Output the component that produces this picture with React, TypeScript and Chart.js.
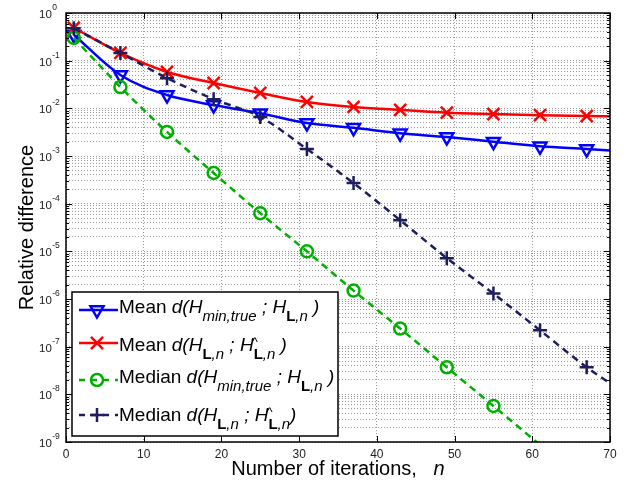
import React, { useEffect, useRef } from 'react';
import { Chart, registerables } from 'chart.js';

Chart.register(...registerables);

// ---------- data ----------
const iterations = [1, 7, 13, 19, 25, 31, 37, 43, 49, 55, 61, 67, 70];
const markerIterations = [1, 7, 13, 19, 25, 31, 37, 43, 49, 55, 61, 67];
const meanMinTrue = [0.35, 0.05, 0.019, 0.0117, 0.0079, 0.0049, 0.0039, 0.003, 0.0025, 0.002, 0.0016, 0.0014, 0.0013];
const meanLHat = [0.49, 0.145, 0.058, 0.034, 0.021, 0.0136, 0.0107, 0.0093, 0.0081, 0.0076, 0.0072, 0.0069, 0.0068];
const medianIterations = [1, 7, 13, 19, 25, 31, 37, 43, 49, 55, 61];
const medianMinTrue = [0.3, 0.028, 0.0032, 4.4e-4, 6.3e-5, 1.0e-5, 1.5e-6, 2.4e-7, 3.7e-8, 5.7e-9, 8.7e-10];
const medianLHat = [0.48, 0.145, 0.043, 0.0156, 0.0066, 0.0014, 2.7e-4, 4.5e-5, 7.2e-6, 1.3e-6, 2.2e-7, 3.7e-8, 1.7e-8];

const xTickValues = [0, 10, 20, 30, 40, 50, 60, 70];
const yExponents = [0, -1, -2, -3, -4, -5, -6, -7, -8, -9];

const legendLabels = [
  'Mean d(H_{min,true} ; H_{L,n} )',
  'Mean d(H_{L,n} ; H^_{L,n} )',
  'Median d(H_{min,true} ; H_{L,n} )',
  'Median d(H_{L,n} ; H^_{L,n})',
];
const xAxisTitle = 'Number of iterations,';
const xAxisVariable = 'n';
const yAxisTitle = 'Relative difference';

// ---------- styles ----------
const FONT = '"Liberation Sans", Arial, Helvetica, sans-serif';
const Y_MIN = 1e-9;
const Y_MAX = 1;

type SeriesStyle = {
  color: string;
  marker: 'triangleDown' | 'crossRot' | 'circle' | 'cross';
  dash: number[];
  radius: number;
};

const seriesStyles: SeriesStyle[] = [
  { color: '#0000ff', marker: 'triangleDown', dash: [], radius: 7.5 },
  { color: '#ff0000', marker: 'crossRot', dash: [], radius: 8.5 },
  { color: '#00b000', marker: 'circle', dash: [7, 5], radius: 6 },
  { color: '#1e1e5e', marker: 'cross', dash: [7, 5], radius: 7 },
];

function pointStyleOf(m: SeriesStyle['marker']): any {
  if (m === 'triangleDown') return 'triangle';
  return m;
}

function drawMarker(ctx: CanvasRenderingContext2D, s: SeriesStyle, x: number, y: number) {
  const r = s.radius;
  ctx.save();
  ctx.setLineDash([]);
  ctx.strokeStyle = s.color;
  ctx.lineWidth = 2.5;
  ctx.beginPath();
  if (s.marker === 'triangleDown') {
    ctx.moveTo(x, y + r);
    ctx.lineTo(x - r * 0.866, y - r / 2);
    ctx.lineTo(x + r * 0.866, y - r / 2);
    ctx.closePath();
  } else if (s.marker === 'crossRot') {
    const d = r * 0.707;
    ctx.moveTo(x - d, y - d);
    ctx.lineTo(x + d, y + d);
    ctx.moveTo(x + d, y - d);
    ctx.lineTo(x - d, y + d);
  } else if (s.marker === 'circle') {
    ctx.arc(x, y, r, 0, Math.PI * 2);
  } else {
    ctx.moveTo(x - r, y);
    ctx.lineTo(x + r, y);
    ctx.moveTo(x, y - r);
    ctx.lineTo(x, y + r);
  }
  ctx.stroke();
  ctx.restore();
}

function drawRich(ctx: CanvasRenderingContext2D, label: string, x: number, baseline: number) {
  const sp = label.indexOf(' ');
  let cx = x;
  const roman = label.slice(0, sp + 1);
  ctx.font = `19px ${FONT}`;
  ctx.fillText(roman, cx, baseline);
  cx += ctx.measureText(roman).width;
  const math = label.slice(sp + 1);
  let i = 0;
  while (i < math.length) {
    const ch = math[i];
    if (ch === '_' && math[i + 1] === '{') {
      const end = math.indexOf('}', i);
      const sub = math.slice(i + 2, end);
      for (const c of sub) {
        ctx.font = c === 'L' ? `bold 15px ${FONT}` : `italic 15px ${FONT}`;
        ctx.fillText(c, cx, baseline + 8);
        cx += ctx.measureText(c).width;
      }
      i = end + 1;
    } else if (ch === '^') {
      ctx.font = `13px ${FONT}`;
      ctx.fillText('^', cx - 2, baseline - 5);
      i++;
    } else {
      ctx.font = `italic 19px ${FONT}`;
      ctx.fillText(ch, cx, baseline);
      cx += ctx.measureText(ch).width;
      i++;
    }
  }
}

const decorPlugin = {
  id: 'decor',
  afterDraw(chart: any) {
    const ctx: CanvasRenderingContext2D = chart.ctx;
    const { left, right, top, bottom } = chart.chartArea;
    const xs = chart.scales.x;
    const ys = chart.scales.y;
    ctx.save();
    ctx.setLineDash([]);

    // inward tick marks
    ctx.strokeStyle = '#000';
    ctx.lineWidth = 1;
    ctx.beginPath();
    ys.ticks.forEach((t: any) => {
      const y = Math.round(ys.getPixelForValue(t.value)) + 0.5;
      const lg = Math.log10(t.value);
      const major = Math.abs(lg - Math.round(lg)) < 1e-6;
      const len = major ? 6 : 3;
      ctx.moveTo(left, y);
      ctx.lineTo(left + len, y);
      ctx.moveTo(right, y);
      ctx.lineTo(right - len, y);
    });
    xs.ticks.forEach((t: any) => {
      const x = Math.round(xs.getPixelForValue(t.value)) + 0.5;
      ctx.moveTo(x, bottom);
      ctx.lineTo(x, bottom - 6);
      ctx.moveTo(x, top);
      ctx.lineTo(x, top + 6);
    });
    ctx.stroke();

    // frame
    ctx.lineWidth = 1.5;
    ctx.strokeRect(left, top, right - left, bottom - top);

    // y tick labels (10^e)
    ctx.fillStyle = '#222';
    ctx.textAlign = 'left';
    ctx.textBaseline = 'alphabetic';
    yExponents.forEach((e) => {
      const y = ys.getPixelForValue(Math.pow(10, e));
      ctx.font = `11.5px ${FONT}`;
      ctx.fillText('10', 39, y + 5);
      const w = ctx.measureText('10').width;
      ctx.font = `8.5px ${FONT}`;
      ctx.fillText(String(e), 39 + w + 0.5, y - 3);
    });

    // axis titles
    ctx.fillStyle = '#000';
    ctx.font = `20px ${FONT}`;
    const titleW = ctx.measureText(xAxisTitle + '   ').width;
    ctx.font = `italic 20px ${FONT}`;
    const varW = ctx.measureText(xAxisVariable).width;
    const cxm = (left + right) / 2;
    let tx = cxm - (titleW + varW) / 2;
    ctx.font = `20px ${FONT}`;
    ctx.fillText(xAxisTitle, tx, 475);
    ctx.font = `italic 20px ${FONT}`;
    ctx.fillText(xAxisVariable, tx + titleW, 475);

    ctx.save();
    ctx.translate(33, (top + bottom) / 2);
    ctx.rotate(-Math.PI / 2);
    ctx.textAlign = 'center';
    ctx.font = `20px ${FONT}`;
    ctx.fillText(yAxisTitle, 0, 0);
    ctx.restore();

    // legend
    const lx = 72, ly = 292, lw = 266, lh = 144;
    ctx.fillStyle = '#fff';
    ctx.fillRect(lx, ly, lw, lh);
    ctx.strokeStyle = '#000';
    ctx.lineWidth = 1.5;
    ctx.strokeRect(lx, ly, lw, lh);
    const sampleY = [310, 343, 380, 415];
    const textBase = [313, 351, 383, 421];
    legendLabels.forEach((lab, k) => {
      const s = seriesStyles[k];
      const y = sampleY[k];
      ctx.save();
      ctx.strokeStyle = s.color;
      ctx.lineWidth = 2.5;
      ctx.setLineDash(s.dash.length ? [6, 6] : []);
      ctx.beginPath();
      ctx.moveTo(79, y);
      ctx.lineTo(118, y);
      ctx.stroke();
      ctx.restore();
      drawMarker(ctx, s, 97, y);
      ctx.fillStyle = '#000';
      drawRich(ctx, lab, 119, textBase[k]);
    });

    ctx.restore();
  },
};

function makeDataset(label: string, xs: number[], ys: number[], s: SeriesStyle, order: number) {
  return {
    label,
    data: xs.map((x, i) => ({ x, y: ys[i] })),
    borderColor: s.color,
    backgroundColor: s.color,
    borderWidth: 2.5,
    borderDash: s.dash,
    cubicInterpolationMode: 'monotone' as const,
    pointStyle: pointStyleOf(s.marker),
    rotation: s.marker === 'triangleDown' ? 180 : 0,
    pointRadius: (c: any) =>
      c.raw && markerIterations.includes(c.raw.x) && c.raw.y >= Y_MIN ? s.radius : 0,
    pointBorderWidth: 2.5,
    pointBorderColor: s.color,
    pointBackgroundColor: 'rgba(0,0,0,0)',
    order,
    clip: 0,
  };
}

export default function App() {
  const ref = useRef<HTMLCanvasElement>(null);
  useEffect(() => {
    if (!ref.current) return;
    const chart = new Chart(ref.current, {
      type: 'line',
      data: {
        datasets: [
          makeDataset(legendLabels[0], iterations, meanMinTrue, seriesStyles[0], 4),
          makeDataset(legendLabels[1], iterations, meanLHat, seriesStyles[1], 3),
          makeDataset(legendLabels[2], medianIterations, medianMinTrue, seriesStyles[2], 2),
          makeDataset(legendLabels[3], iterations, medianLHat, seriesStyles[3], 1),
        ] as any,
      },
      options: {
        responsive: false,
        animation: false,
        layout: { padding: { top: 13, right: 24, left: 0, bottom: 0 } },
        plugins: { legend: { display: false }, tooltip: { enabled: false } },
        scales: {
          x: {
            type: 'linear',
            min: 0,
            max: 70,
            afterBuildTicks: (scale: any) => {
              scale.ticks = xTickValues.map((v) => ({ value: v }));
            },
            afterFit: (scale: any) => {
              scale.height = 38;
            },
            grid: { color: '#9a9a9a', lineWidth: 1, drawTicks: false },
            border: { display: false, dash: [1, 2] },
            ticks: {
              padding: 5,
              color: '#222',
              font: { family: FONT, size: 12 },
              maxRotation: 0,
              autoSkip: false,
            },
          },
          y: {
            type: 'logarithmic',
            min: Y_MIN,
            max: Y_MAX,
            afterBuildTicks: (scale: any) => {
              const t: any[] = [];
              for (let e = -9; e <= 0; e++) {
                for (let m = 1; m <= 9; m++) {
                  const v = m * Math.pow(10, e);
                  if (v <= Y_MAX * 1.0000001) t.push({ value: v });
                }
              }
              scale.ticks = t;
            },
            afterFit: (scale: any) => {
              scale.width = 66;
            },
            grid: { color: '#9a9a9a', lineWidth: 1, drawTicks: false },
            border: { display: false, dash: [1, 2] },
            ticks: { display: false, autoSkip: false },
          },
        },
      },
      plugins: [decorPlugin],
    } as any);
    return () => chart.destroy();
  }, []);
  return (
    <div style={{ position: 'fixed', left: 0, top: 0, width: 634, height: 480, background: '#fff' }}>
      <canvas ref={ref} width={634} height={480} />
    </div>
  );
}
